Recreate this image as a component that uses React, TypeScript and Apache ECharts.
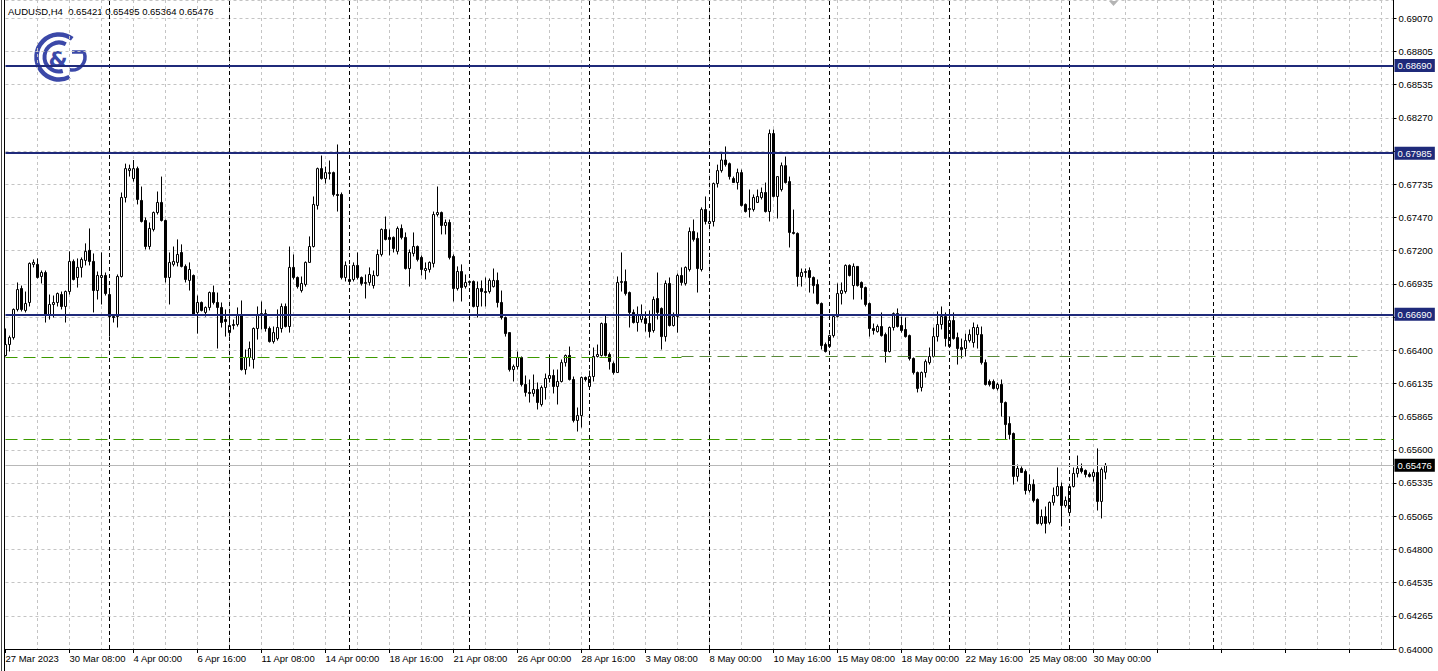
import React, { useEffect, useRef } from "react";
import * as echarts from "echarts";

// ---------- data ----------
const headerText = "AUDUSD,H4\u00a0\u00a00.65421 0.65495 0.65364 0.65476";

// H4 candles: [open, close, low, high]
const candles: number[][] = [
  [0.66359,0.66447,0.66351,0.66576],[0.66447,0.66503,0.66391,0.66519],[0.66503,0.66729,0.66487,0.66737],[0.66729,0.66889,0.66713,0.66946],
  [0.66897,0.66729,0.66713,0.66921],[0.66721,0.66777,0.66705,0.66873],[0.66785,0.67099,0.66753,0.67107],[0.67091,0.67107,0.67067,0.67131],
  [0.67091,0.66986,0.66978,0.67139],[0.66994,0.67026,0.66938,0.67042],[0.67026,0.66680,0.66624,0.67042],[0.66680,0.66769,0.66648,0.66849],
  [0.66769,0.66785,0.66664,0.66841],[0.66785,0.66857,0.66753,0.66865],[0.66849,0.66753,0.66729,0.66873],[0.66753,0.66873,0.66624,0.66881],
  [0.66873,0.67115,0.66849,0.67196],[0.67115,0.66970,0.66962,0.67131],[0.66986,0.67067,0.66905,0.67139],[0.67067,0.67131,0.66986,0.67147],
  [0.67123,0.67196,0.67083,0.67260],[0.67204,0.67115,0.67083,0.67380],[0.67115,0.66881,0.66705,0.67179],[0.66881,0.67002,0.66809,0.67034],
  [0.66986,0.67002,0.66769,0.67187],[0.67002,0.66857,0.66841,0.67026],[0.66849,0.66672,0.66511,0.66881],[0.66672,0.66664,0.66624,0.66688],
  [0.66672,0.66994,0.66584,0.67010],[0.66994,0.67629,0.66986,0.67669],[0.67629,0.67861,0.67589,0.67901],[0.67845,0.67861,0.67797,0.67893],
  [0.67781,0.67861,0.67757,0.67930],[0.67861,0.67613,0.67573,0.67877],[0.67605,0.67436,0.67428,0.67717],[0.67444,0.67235,0.67211,0.67468],
  [0.67235,0.67380,0.67211,0.67428],[0.67372,0.67508,0.67356,0.67516],[0.67508,0.67589,0.67492,0.67677],[0.67589,0.67444,0.67436,0.67797],
  [0.67444,0.66986,0.66946,0.67452],[0.66986,0.67107,0.66769,0.67187],[0.67091,0.67115,0.67075,0.67235],[0.67107,0.67171,0.67075,0.67292],
  [0.67187,0.67075,0.67067,0.67252],[0.67075,0.66970,0.66946,0.67091],[0.66962,0.67050,0.66881,0.67107],[0.67002,0.66688,0.66680,0.67010],
  [0.66705,0.66785,0.66535,0.66841],[0.66785,0.66721,0.66713,0.66793],[0.66705,0.66745,0.66672,0.66753],[0.66745,0.66865,0.66721,0.66873],
  [0.66865,0.66785,0.66769,0.66921],[0.66785,0.66745,0.66415,0.66865],[0.66745,0.66624,0.66584,0.66785],[0.66648,0.66632,0.66511,0.66729],
  [0.66543,0.66600,0.66511,0.66696],[0.66600,0.66608,0.66568,0.66648],[0.66608,0.66688,0.66592,0.66745],[0.66688,0.66246,0.66238,0.66801],
  [0.66246,0.66343,0.66206,0.66407],[0.66343,0.66415,0.66270,0.66471],[0.66327,0.66576,0.66254,0.66584],[0.66576,0.66688,0.66487,0.66753],
  [0.66688,0.66696,0.66568,0.66793],[0.66696,0.66576,0.66551,0.66729],[0.66576,0.66471,0.66463,0.66592],[0.66471,0.66543,0.66455,0.66592],
  [0.66495,0.66584,0.66479,0.66729],[0.66576,0.66753,0.66543,0.66777],[0.66753,0.66592,0.66584,0.66777],[0.66592,0.67067,0.66543,0.67235],
  [0.67067,0.66986,0.66970,0.67171],[0.66986,0.66913,0.66897,0.66994],[0.66881,0.66938,0.66865,0.66994],[0.66930,0.67107,0.66913,0.67115],
  [0.67107,0.67235,0.67107,0.67316],[0.67235,0.67573,0.67227,0.67637],[0.67565,0.67861,0.67532,0.67869],[0.67861,0.67781,0.67773,0.67966],
  [0.67781,0.67829,0.67741,0.67877],[0.67821,0.67829,0.67773,0.67926],[0.67829,0.67653,0.67637,0.67837],[0.67653,0.67645,0.67516,0.68055],
  [0.67653,0.66986,0.66970,0.67669],[0.66986,0.67083,0.66954,0.67115],[0.66970,0.66954,0.66946,0.67083],[0.66970,0.67083,0.66954,0.67107],
  [0.67083,0.66986,0.66970,0.67187],[0.66986,0.66938,0.66921,0.66994],[0.66938,0.66946,0.66817,0.67010],[0.66946,0.67010,0.66921,0.67067],
  [0.66921,0.67002,0.66897,0.67042],[0.67002,0.67171,0.66994,0.67211],[0.67171,0.67372,0.67155,0.67380],[0.67372,0.67292,0.67284,0.67476],
  [0.67308,0.67292,0.67163,0.67372],[0.67308,0.67219,0.67187,0.67316],[0.67196,0.67380,0.67171,0.67396],[0.67380,0.67308,0.67292,0.67412],
  [0.67308,0.67058,0.67050,0.67348],[0.67058,0.67187,0.66913,0.67211],[0.67179,0.67235,0.67155,0.67348],[0.67235,0.67131,0.67115,0.67243],
  [0.67147,0.67050,0.67002,0.67163],[0.67042,0.67058,0.66970,0.67107],[0.67050,0.67107,0.67026,0.67115],[0.67099,0.67492,0.67067,0.67516],
  [0.67492,0.67508,0.67476,0.67717],[0.67508,0.67404,0.67332,0.67516],[0.67404,0.67428,0.67332,0.67452],[0.67428,0.67147,0.67131,0.67452],
  [0.67155,0.66897,0.66793,0.67171],[0.66897,0.67034,0.66881,0.67075],[0.67034,0.66905,0.66793,0.67091],[0.66913,0.66946,0.66897,0.67010],
  [0.66946,0.66954,0.66921,0.66962],[0.66954,0.66753,0.66745,0.66962],[0.66753,0.66897,0.66664,0.66954],[0.66897,0.66873,0.66753,0.66962],
  [0.66873,0.66865,0.66753,0.66986],[0.66873,0.66962,0.66857,0.66978],[0.66913,0.66962,0.66905,0.67058],[0.66962,0.66785,0.66745,0.67026],
  [0.66785,0.66664,0.66648,0.66881],[0.66664,0.66535,0.66511,0.66672],[0.66543,0.66246,0.66230,0.66543],[0.66246,0.66270,0.66150,0.66286],
  [0.66270,0.66343,0.66246,0.66391],[0.66343,0.66126,0.66110,0.66351],[0.66126,0.66062,0.66029,0.66198],[0.66062,0.66054,0.65981,0.66166],
  [0.66054,0.66086,0.66029,0.66206],[0.66086,0.65981,0.65925,0.66142],[0.65965,0.66102,0.65949,0.66118],[0.66102,0.66174,0.66005,0.66214],
  [0.66174,0.66198,0.66142,0.66367],[0.66198,0.66110,0.66054,0.66246],[0.66110,0.66150,0.65965,0.66246],[0.66150,0.66302,0.66142,0.66327],
  [0.66302,0.66359,0.66270,0.66367],[0.66359,0.66166,0.66158,0.66431],[0.66166,0.65837,0.65821,0.66190],[0.65837,0.65876,0.65748,0.65941],
  [0.65876,0.66182,0.65780,0.66190],[0.66182,0.66166,0.66150,0.66190],[0.66110,0.66190,0.66102,0.66238],[0.66190,0.66351,0.66150,0.66423],
  [0.66351,0.66367,0.66343,0.66447],[0.66359,0.66616,0.66351,0.66624],[0.66616,0.66359,0.66351,0.66688],[0.66367,0.66310,0.66246,0.66383],
  [0.66294,0.66222,0.66206,0.66310],[0.66222,0.66946,0.66222,0.66994],[0.66946,0.66954,0.66873,0.67187],[0.66954,0.66857,0.66841,0.67050],
  [0.66865,0.66705,0.66584,0.66873],[0.66705,0.66624,0.66616,0.66729],[0.66624,0.66688,0.66551,0.66753],[0.66648,0.66688,0.66624,0.66769],
  [0.66656,0.66616,0.66551,0.66713],[0.66616,0.66551,0.66503,0.66721],[0.66560,0.66809,0.66543,0.66833],[0.66817,0.66705,0.66648,0.67026],
  [0.66737,0.66511,0.66407,0.66745],[0.66511,0.66938,0.66471,0.66962],[0.66938,0.66600,0.66592,0.66986],[0.66600,0.66672,0.66592,0.66705],
  [0.66672,0.67002,0.66543,0.67018],[0.67002,0.66946,0.66921,0.67067],[0.66938,0.67067,0.66921,0.67075],[0.67050,0.67356,0.67034,0.67388],
  [0.67356,0.67292,0.67275,0.67452],[0.67300,0.67058,0.66865,0.67348],[0.67050,0.67532,0.67034,0.67549],[0.67532,0.67436,0.67412,0.67637],
  [0.67420,0.67436,0.67412,0.67516],[0.67436,0.67741,0.67396,0.67749],[0.67741,0.67845,0.67709,0.67893],[0.67845,0.67930,0.67829,0.67990],
  [0.67930,0.67893,0.67877,0.68039],[0.67901,0.67797,0.67773,0.67910],[0.67781,0.67749,0.67749,0.67797],[0.67749,0.67829,0.67693,0.67861],
  [0.67829,0.67565,0.67557,0.67853],[0.67573,0.67516,0.67508,0.67581],[0.67532,0.67540,0.67468,0.67693],[0.67532,0.67629,0.67516,0.67653],
  [0.67589,0.67637,0.67589,0.67693],[0.67629,0.67669,0.67613,0.67709],[0.67669,0.67516,0.67508,0.67749],[0.67516,0.68143,0.67436,0.68175],
  [0.68143,0.67637,0.67629,0.68175],[0.67637,0.67797,0.67460,0.67797],[0.67693,0.67885,0.67677,0.67910],[0.67885,0.67749,0.67741,0.67958],
  [0.67757,0.67348,0.67227,0.67797],[0.67348,0.67340,0.67332,0.67532],[0.67340,0.66994,0.66913,0.67348],[0.66994,0.67026,0.66913,0.67058],
  [0.67026,0.67034,0.66986,0.67058],[0.67042,0.66986,0.66865,0.67067],[0.66986,0.66921,0.66857,0.66994],[0.66930,0.66777,0.66769,0.66970],
  [0.66777,0.66439,0.66407,0.66785],[0.66447,0.66391,0.66383,0.66463],[0.66431,0.66519,0.66423,0.66527],[0.66519,0.66672,0.66503,0.66680],
  [0.66672,0.66857,0.66664,0.66938],[0.66857,0.66881,0.66769,0.66946],[0.66873,0.67083,0.66857,0.67091],[0.67083,0.67002,0.66994,0.67091],
  [0.66921,0.67075,0.66809,0.67099],[0.67075,0.66921,0.66913,0.67075],[0.66946,0.66905,0.66809,0.66954],[0.66905,0.66769,0.66753,0.66913],
  [0.66777,0.66576,0.66511,0.66785],[0.66576,0.66560,0.66527,0.66616],[0.66551,0.66592,0.66543,0.66608],[0.66592,0.66519,0.66511,0.66705],
  [0.66527,0.66391,0.66302,0.66543],[0.66391,0.66584,0.66383,0.66592],[0.66584,0.66696,0.66560,0.66705],[0.66696,0.66592,0.66584,0.66737],
  [0.66600,0.66560,0.66543,0.66672],[0.66568,0.66511,0.66503,0.66664],[0.66519,0.66335,0.66319,0.66527],[0.66335,0.66222,0.66206,0.66343],
  [0.66222,0.66094,0.66062,0.66230],[0.66102,0.66222,0.66070,0.66230],[0.66222,0.66310,0.66182,0.66327],[0.66302,0.66351,0.66286,0.66423],
  [0.66351,0.66511,0.66343,0.66584],[0.66511,0.66608,0.66471,0.66713],[0.66608,0.66672,0.66568,0.66753],[0.66672,0.66495,0.66431,0.66705],
  [0.66431,0.66640,0.66423,0.66705],[0.66640,0.66495,0.66487,0.66705],[0.66503,0.66415,0.66286,0.66543],[0.66423,0.66407,0.66335,0.66495],
  [0.66415,0.66479,0.66351,0.66535],[0.66479,0.66527,0.66463,0.66568],[0.66463,0.66584,0.66423,0.66624],[0.66527,0.66584,0.66415,0.66608],
  [0.66527,0.66302,0.66286,0.66592],[0.66302,0.66126,0.66118,0.66327],[0.66150,0.66126,0.66110,0.66166],[0.66150,0.66094,0.66086,0.66166],
  [0.66094,0.66126,0.66078,0.66142],[0.66126,0.65981,0.65868,0.66166],[0.65981,0.65804,0.65684,0.65989],[0.65812,0.65724,0.65684,0.65868],
  [0.65732,0.65387,0.65322,0.65740],[0.65387,0.65451,0.65346,0.65483],[0.65451,0.65419,0.65419,0.65467],[0.65427,0.65274,0.65242,0.65443],
  [0.65274,0.65322,0.65258,0.65403],[0.65322,0.65194,0.65178,0.65363],[0.65202,0.65009,0.65001,0.65210],[0.65009,0.65065,0.64993,0.65121],
  [0.65065,0.65009,0.64929,0.65145],[0.65017,0.65178,0.65001,0.65186],[0.65178,0.65234,0.65153,0.65298],[0.65234,0.65306,0.65226,0.65459],
  [0.65306,0.65153,0.64985,0.65338],[0.65153,0.65194,0.65137,0.65226],[0.65097,0.65306,0.65081,0.65306],[0.65306,0.65411,0.65298,0.65459],
  [0.65411,0.65451,0.65379,0.65555],[0.65451,0.65427,0.65411,0.65491],[0.65435,0.65403,0.65379,0.65443],[0.65403,0.65387,0.65379,0.65419],
  [0.65387,0.65419,0.65346,0.65443],[0.65419,0.65186,0.65113,0.65612],[0.65186,0.65443,0.65049,0.65459],[0.65421,0.65476,0.65364,0.65495],
];

// time-axis labels, one every 16 bars starting at bar 0
const dateLabels = [
  "27 Mar 2023", "30 Mar 08:00", "4 Apr 00:00", "6 Apr 16:00", "11 Apr 08:00", "14 Apr 00:00",
  "18 Apr 16:00", "21 Apr 08:00", "26 Apr 00:00", "28 Apr 16:00", "3 May 08:00", "8 May 00:00",
  "10 May 16:00", "15 May 08:00", "18 May 00:00", "22 May 16:00", "25 May 08:00", "30 May 00:00",
];
const labelEvery = 16;
const gridEvery = 8;
const totalSlots = 348; // bars + empty right shift area
const separatorBars = [26, 56, 86, 116, 146, 176, 206, 236, 266, 302];

// price scale
const priceMin = 0.64;
const priceMax = 0.692162;
const priceStep = 0.0026684;
const priceTicks = [
  "0.64000", "0.64265", "0.64535", "0.64800", "0.65065", "0.65335", "0.65600", "0.65865",
  "0.66135", "0.66400", "", "0.66935", "0.67200", "0.67470", "0.67735", "", "0.68270",
  "0.68535", "0.68805", "0.69070",
];

// horizontal levels
const levelValues = [0.6869, 0.67985, 0.6669];
const levelLabels = ["0.68690", "0.67985", "0.66690"];
const bidValue = 0.65476;
const bidLabel = "0.65476";
const greenLevelA = 0.66343;
const greenLevelB = 0.66351;
const greenLevelC = 0.65684;
const greenSegA = [0, 169];
const greenSegB = [169, 338];

// ---------- style ----------
const NAVY = "#1f2a7a";
const GRID = "#c4c4c4";
const GREEN = "#3d9a00";
const GREEN2 = "#5a8a3a";
const LOGO = "#3b48a8";
const FONT = "Liberation Sans";
const deg = (d: number) => (d * Math.PI) / 180;

export default function App() {
  const ref = useRef<HTMLDivElement>(null);
  useEffect(() => {
    if (!ref.current) return;
    const chart = echarts.init(ref.current, undefined, { renderer: "svg" });
    const categories = Array.from({ length: totalSlots }, (_, i) => String(i));
    const labelAt: Record<number, string> = {};
    dateLabels.forEach((t, j) => {
      labelAt[j * labelEvery] = t;
    });

    const levelMarks = levelValues.map((v, i) => ({
      yAxis: v,
      lineStyle: { color: NAVY, width: 2, type: "solid" },
      label: {
        show: true,
        position: "end",
        formatter: levelLabels[i],
        color: "#fff",
        backgroundColor: NAVY,
        padding: [2, 3, 1, 3],
        fontSize: 9.5,
        fontFamily: FONT,
        distance: 1,
      },
    }));
    const sepMarks = separatorBars.map((b) => ({
      xAxis: String(b),
      lineStyle: { color: "#000", width: 1, type: [4, 3] },
      label: { show: false },
    }));

    const option: any = {
      animation: false,
      backgroundColor: "#fff",
      textStyle: { fontFamily: FONT },
      grid: { left: 5.5, right: 44.5, top: 0, bottom: 22, containLabel: false },
      xAxis: {
        type: "category",
        data: categories,
        boundaryGap: false,
        axisLine: { show: true, lineStyle: { color: "#000", width: 1 } },
        axisTick: {
          show: true,
          interval: (i: number) => i % labelEvery === 0,
          length: 4,
          lineStyle: { color: "#000" },
        },
        axisLabel: {
          show: true,
          interval: (i: number) => i % labelEvery === 0 && labelAt[i] !== undefined,
          formatter: (_v: string, i: number) => labelAt[i] ?? "",
          align: "left",
          margin: 4,
          color: "#000",
          fontSize: 9.5,
          fontFamily: FONT,
        },
        splitLine: {
          show: true,
          interval: (i: number) => i > 0 && i % gridEvery === 0,
          lineStyle: { color: GRID, width: 1, type: [3, 3] },
        },
      },
      yAxis: {
        type: "value",
        position: "right",
        min: priceMin,
        max: priceMax,
        interval: priceStep,
        scale: true,
        axisLine: { show: true, lineStyle: { color: "#000", width: 1 } },
        axisTick: { show: true, length: 3, lineStyle: { color: "#000" } },
        axisLabel: {
          show: true,
          showMaxLabel: false,
          margin: 5,
          color: "#000",
          fontSize: 9.5,
          fontFamily: FONT,
          formatter: (v: number) => {
            const k = Math.round((v - priceMin) / priceStep);
            if (Math.abs(v - (priceMin + k * priceStep)) > priceStep * 0.05) return "";
            return priceTicks[k] ?? "";
          },
        },
        splitLine: { show: true, lineStyle: { color: GRID, width: 1, type: [3, 3] } },
      },
      series: [
        {
          type: "candlestick",
          data: candles,
          barWidth: 2,
          clip: false,
          itemStyle: {
            color: "#fff",
            color0: "#000",
            borderColor: "#000",
            borderColor0: "#000",
            borderWidth: 1,
          },
          markLine: {
            silent: true,
            precision: 5,
            symbol: ["none", "none"],
            animation: false,
            data: [
              ...sepMarks,
              [
                { coord: [String(greenSegA[0]), greenLevelA], lineStyle: { color: GREEN, width: 1, type: [12, 6] }, label: { show: false } },
                { coord: [String(greenSegA[1]), greenLevelA] },
              ],
              [
                { coord: [String(greenSegB[0]), greenLevelB], lineStyle: { color: GREEN2, width: 1, type: [12, 6] }, label: { show: false } },
                { coord: [String(greenSegB[1]), greenLevelB] },
              ],
              { yAxis: greenLevelC, lineStyle: { color: GREEN, width: 1, type: [12, 6] }, label: { show: false } },
              {
                yAxis: bidValue,
                lineStyle: { color: "#b8b8b8", width: 1, type: "solid" },
                label: {
                  show: true,
                  position: "end",
                  formatter: bidLabel,
                  color: "#fff",
                  backgroundColor: "#000",
                  padding: [2, 3, 1, 3],
                  fontSize: 9.5,
                  fontFamily: FONT,
                  distance: 1,
                },
              },
              ...levelMarks,
            ],
          },
        },
      ],
      graphic: [
        { type: "line", shape: { x1: 1.5, y1: 0, x2: 1.5, y2: 671 }, style: { stroke: "#444", lineWidth: 1 }, silent: true },
        { type: "line", shape: { x1: 4.5, y1: 0, x2: 4.5, y2: 671 }, style: { stroke: "#000", lineWidth: 1 }, silent: true },
        {
          type: "polygon",
          shape: { points: [[1109, 1], [1118, 1], [1113.5, 6]] },
          style: { fill: "#b4b4b4" },
          silent: true,
        },
        {
          type: "text",
          x: 8,
          y: 6,
          style: { text: headerText, fill: "#000", font: "9.5px 'Liberation Sans'" },
          silent: true,
        },
        {
          type: "group",
          silent: true,
          children: [
            {
              type: "arc",
              shape: { cx: 59, cy: 57, r: 22.5, startAngle: deg(62), endAngle: deg(306), clockwise: true },
              style: { stroke: LOGO, lineWidth: 4.5, fill: "none" },
            },
            {
              type: "arc",
              shape: { cx: 59, cy: 57, r: 14.5, startAngle: deg(75), endAngle: deg(298), clockwise: true },
              style: { stroke: LOGO, lineWidth: 4, fill: "none" },
            },
            {
              type: "text",
              x: 58,
              y: 59,
              style: {
                text: "&",
                fill: LOGO,
                fontSize: 22,
                fontWeight: "bold",
                fontFamily: "DejaVu Sans",
                align: "center",
                verticalAlign: "middle",
              },
            },
            { type: "line", shape: { x1: 72, y1: 52, x2: 85.5, y2: 52 }, style: { stroke: LOGO, lineWidth: 3.5 } },
            {
              type: "arc",
              shape: { cx: 72, cy: 57, r: 13, startAngle: deg(-18), endAngle: deg(100), clockwise: true },
              style: { stroke: LOGO, lineWidth: 3.5, fill: "none" },
            },
          ],
        },
      ],
    };
    chart.setOption(option);
    return () => chart.dispose();
  }, []);
  return (
    <div
      ref={ref}
      style={{ position: "fixed", left: 0, top: 0, width: 1438, height: 671, background: "#fff" }}
    />
  );
}
